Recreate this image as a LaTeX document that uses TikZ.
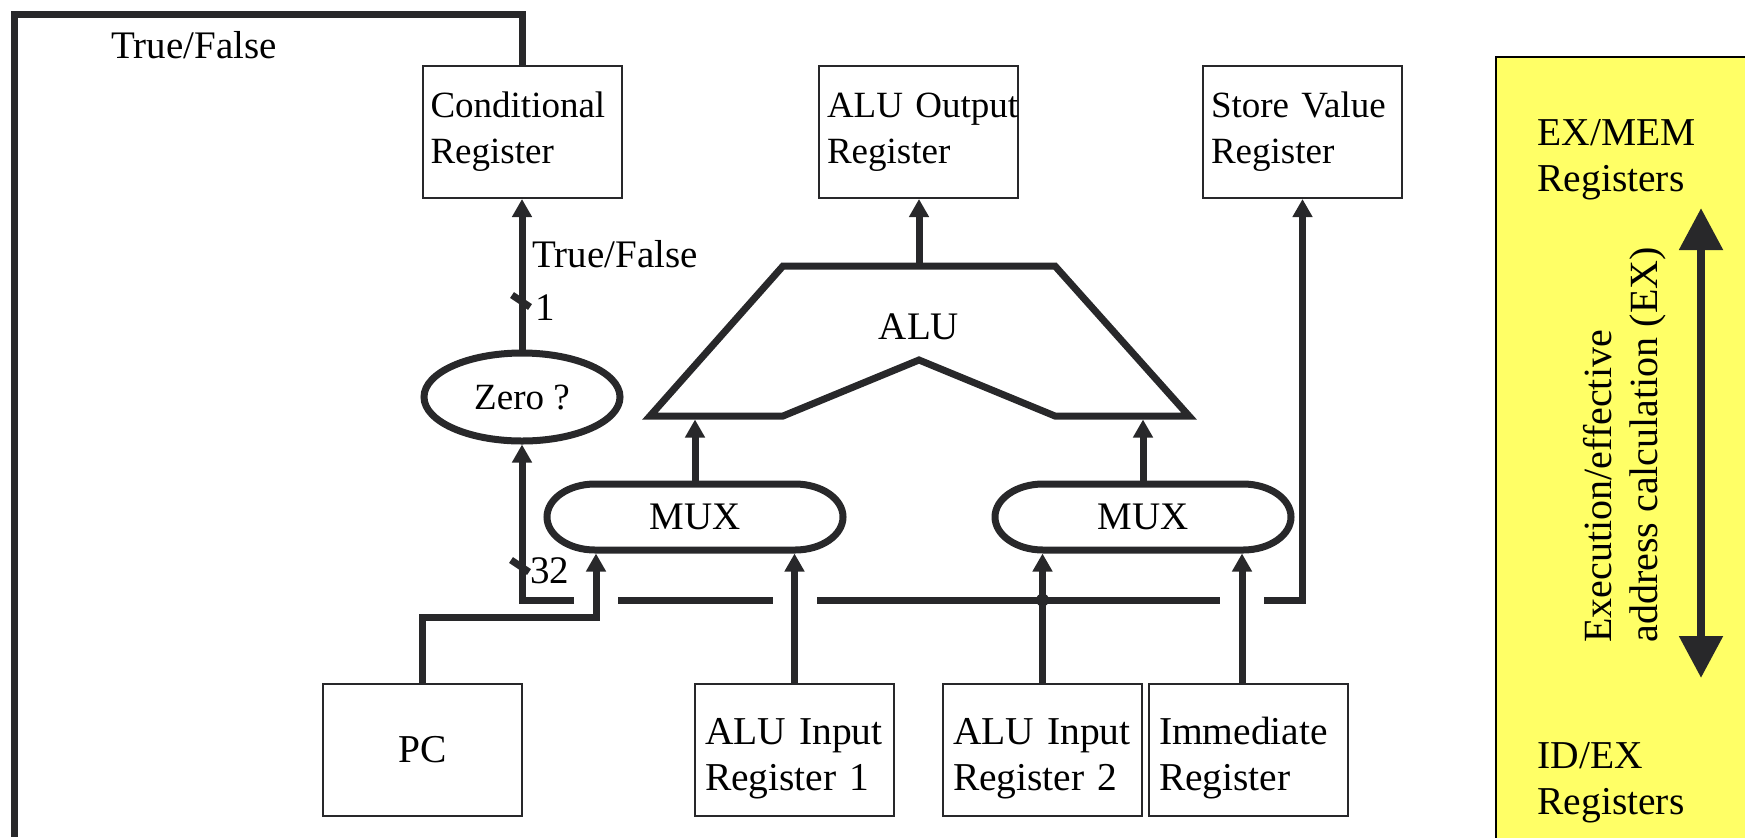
\documentclass[tikz,border=0pt]{standalone}
\usepackage{fontspec}
\setmainfont{Liberation Serif}
\usetikzlibrary{arrows.meta,shapes.geometric,calc}
\definecolor{ink}{RGB}{40,40,42}
\definecolor{panelyellow}{RGB}{255,255,102}
\newcommand{\lowerstrut}{\rule{0pt}{22pt}}
\begin{document}
\begin{tikzpicture}[x=0.5pt,y=-0.5pt,line join=miter,
  wire/.style={draw=ink,line width=3.5pt},
  arr/.style={wire,-{Triangle[length=9pt,width=9.5pt]}},
  reg/.style={draw=ink,line width=1pt,minimum width=99.5pt,minimum height=66pt,
    inner xsep=4pt,inner ysep=0pt,text width=91.5pt,align=left,
    font=\fontsize{18.5}{23}\selectfont},
  regb/.style={reg,inner xsep=5pt,text width=89.5pt,
    font=\fontsize{19.75}{23}\selectfont},
  lbl/.style={inner sep=0pt,font=\fontsize{19.5}{23}\selectfont},
  muxbox/.style={minimum width=148pt,minimum height=33pt,inner sep=0pt,
    outer sep=1.75pt,font=\fontsize{19.5}{23}\selectfont},
  paneltext/.style={inner sep=0pt,align=left,font=\fontsize{19.75}{23}\selectfont}]
\useasboundingbox (0,0) rectangle (1745,837);

% pipeline register panel
\fill[panelyellow] (1496,57) rectangle (1746,838);
\draw[line width=1.3pt] (1496,838) -- (1496,57) -- (1746,57);
\node[paneltext,anchor=north west] (exmem) at (1537,119) {EX/MEM\\Registers};
\node[paneltext,anchor=north west] (idex) at (1537,742) {ID/EX\\Registers};
\node[rotate=90,anchor=west,align=left,inner sep=0pt,
  font=\fontsize{20}{23}\selectfont] (stage) at (1625,643)
  {Execution/effective\\address calculation (EX)};
\coordinate (extop) at (1701,208);
\coordinate (exbot) at (1701,678);
\draw[draw=ink,line width=4.2pt,
  {Triangle[length=21pt,width=21pt]}-{Triangle[length=21pt,width=21pt]}]
  (exbot) -- (extop);

% registers
\node[reg] (cond) at (522,132) {\mbox{Conditional}\\\mbox{Register}};
\node[reg] (aluout) at (918.5,132) {\mbox{ALU Output}\\\mbox{Register}};
\node[reg] (store) at (1302.5,132) {\mbox{Store Value}\\\mbox{Register}};
\node[regb,align=center] (pc) at (422.5,749.5) {PC};
\node[regb] (ain1) at (794.5,749.5) {\lowerstrut\mbox{ALU Input}\\\mbox{Register 1}};
\node[regb] (ain2) at (1042.5,749.5) {\lowerstrut\mbox{ALU Input}\\\mbox{Register 2}};
\node[regb] (imm) at (1248.5,749.5) {\lowerstrut\mbox{Immediate}\\\mbox{Register}};

% zero test
\node[ellipse,draw=ink,line width=3.5pt,minimum width=98pt,minimum height=44pt,
  inner sep=0pt,font=\fontsize{18.5}{23}\selectfont] (zero) at (522,397) {Zero ?};

% ALU
\draw[wire] (650,416) -- (783,266) -- (1055,266) -- (1189,416) -- (1055,416)
  -- (919,360) -- (783,416) -- cycle;
\node[lbl] (alu) at (919,327) {ALU};
\coordinate (alutop) at (919,262.5);
\coordinate (alubase) at (919,419.5);

% multiplexers
\node[muxbox] (mux1) at (695,517) {MUX};
\node[muxbox] (mux2) at (1143,517) {MUX};
\foreach \m in {mux1,mux2}
  \draw[wire] ($(\m)+(-100,-33)$) -- ++(200,0)
    arc[start angle=-90,end angle=90,x radius=48,y radius=33] -- ++(-200,0)
    arc[start angle=90,end angle=270,x radius=48,y radius=33] -- cycle;

% outputs
\draw[arr] (mux1.north) -- (mux1.north |- alubase);
\draw[arr] (mux2.north) -- (mux2.north |- alubase);
\draw[arr] (alutop) -- (alutop |- aluout.south);
\draw[arr] (zero.north) -- (cond.south);

% branch outcome fed back to fetch
\coordinate (fbtop) at (14,14);
\coordinate (fbend) at (14,837);
\draw[wire] (cond.north) |- (fbtop) -- (fbend);
\node[lbl,anchor=base west] (tf1) at (111,58) {True/False};
\node[lbl,anchor=base west] (tf2) at (532,267) {True/False};

% bit-width marks
\draw[wire] (512,295) -- (530,307);
\node[lbl,anchor=base west] (w1) at (535,320) {1};
\draw[wire] (511,560) -- (529,572);
\node[lbl,anchor=base west] (w32) at (530,583) {32};

% operand bus with crossing gaps
\coordinate (g1a) at (574,600);
\coordinate (g1b) at (618,600);
\coordinate (g2a) at (773,600);
\coordinate (g2b) at (817,600);
\coordinate (g3a) at (1220,600);
\coordinate (g3b) at (1264,600);
\draw[arr] (g1a) -| (zero.south);
\draw[wire] (g1b) -- (g2a);
\draw[wire] (g2b) -- (g3a);
\draw[arr] (g3b) -| (store.south);

% multiplexer inputs
\coordinate (m1a) at ($(mux1.south)+(-99,0)$);
\coordinate (pcturn) at (596,617);
\draw[arr] (pc.north) |- (pcturn) -- (m1a);
\draw[arr] (ain1.north) -- (ain1.north |- mux1.south);
\draw[arr] (ain2.north) -- (ain2.north |- mux2.south);
\fill[ink] (ain2.north |- g1a) circle[radius=6.5];
\coordinate (m2b) at ($(mux2.south)+(99,0)$);
\draw[arr] (imm.north -| m2b) -- (m2b);
\end{tikzpicture}
\end{document}
